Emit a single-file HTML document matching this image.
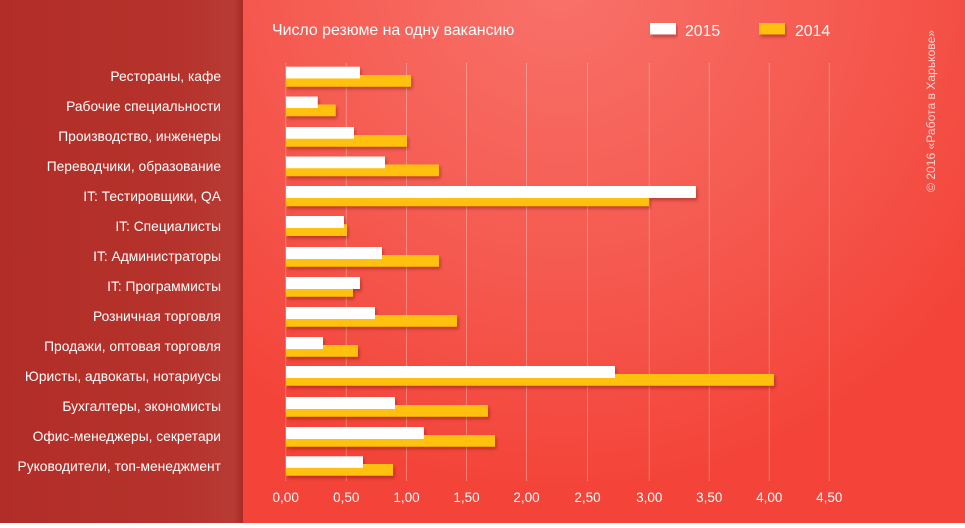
<!DOCTYPE html>
<html><head><meta charset="utf-8">
<style>
html,body{margin:0;padding:0;}
body{width:965px;height:523px;overflow:hidden;font-family:"Liberation Sans","Noto Sans CJK SC",sans-serif;}
</style></head>
<body>
<svg width="965" height="523" viewBox="0 0 965 523" xmlns="http://www.w3.org/2000/svg" font-family="Liberation Sans, DejaVu Sans, sans-serif">
<defs>
  <radialGradient id="bg" cx="560" cy="-20" r="520" gradientUnits="userSpaceOnUse">
    <stop offset="0" stop-color="#f8726a"/>
    <stop offset="0.55" stop-color="#f55a50"/>
    <stop offset="1" stop-color="#f44338"/>
  </radialGradient>
  <linearGradient id="lp" x1="0" y1="0" x2="1" y2="0">
    <stop offset="0" stop-color="#b22d27"/>
    <stop offset="0.75" stop-color="#b5332c"/>
    <stop offset="0.96" stop-color="#b83b34"/>
    <stop offset="1" stop-color="#a82a25"/>
  </linearGradient>
  <filter id="sh" x="-5%" y="-50%" width="112%" height="250%">
    <feDropShadow dx="1.5" dy="2.5" stdDeviation="1.6" flood-color="#5a0a05" flood-opacity="0.35"/>
  </filter>
</defs>
<rect x="0" y="0" width="965" height="523" fill="url(#bg)"/>
<rect x="0" y="0" width="243" height="523" fill="url(#lp)"/>

<text x="272" y="35" font-size="15.9" fill="#ffffff">Число резюме на одну вакансию</text>
<rect x="650" y="23" width="26" height="11.5" fill="#ffffff" filter="url(#sh)"/>
<text x="685" y="36" font-size="15.8" fill="#ffffff">2015</text>
<rect x="759" y="23" width="26" height="11.5" fill="#ffc107" filter="url(#sh)"/>
<text x="795" y="36" font-size="15.8" fill="#ffffff">2014</text>

<text transform="translate(935,192) rotate(-90)" font-size="12.1" fill="#ffffff" fill-opacity="0.75">© 2016 «Работа в Харькове»</text>

<g stroke="#ffffff" stroke-opacity="0.3" stroke-width="1">
  <line x1="285.7" y1="63" x2="285.7" y2="481"/>
  <line x1="346.3" y1="63" x2="346.3" y2="481"/>
  <line x1="406.5" y1="63" x2="406.5" y2="481"/>
  <line x1="466.5" y1="63" x2="466.5" y2="481"/>
  <line x1="526.5" y1="63" x2="526.5" y2="481"/>
  <line x1="587.5" y1="63" x2="587.5" y2="481"/>
  <line x1="649.3" y1="63" x2="649.3" y2="481"/>
  <line x1="709.3" y1="63" x2="709.3" y2="481"/>
  <line x1="769.3" y1="63" x2="769.3" y2="481"/>
  <line x1="829.3" y1="63" x2="829.3" y2="481"/>
</g>

<g font-size="13.8" fill="#ffffff" text-anchor="end">
  <text x="221" y="81">Рестораны, кафе</text>
  <text x="221" y="111">Рабочие специальности</text>
  <text x="221" y="141">Производство, инженеры</text>
  <text x="221" y="171">Переводчики, образование</text>
  <text x="221" y="201">IT: Тестировщики, QA</text>
  <text x="221" y="231">IT: Специалисты</text>
  <text x="221" y="261">IT: Администраторы</text>
  <text x="221" y="291">IT: Программисты</text>
  <text x="221" y="321">Розничная торговля</text>
  <text x="221" y="351">Продажи, оптовая торговля</text>
  <text x="221" y="381">Юристы, адвокаты, нотариусы</text>
  <text x="221" y="411">Бухгалтеры, экономисты</text>
  <text x="221" y="441">Офис-менеджеры, секретари</text>
  <text x="221" y="471">Руководители, топ-менеджмент</text>
</g>

<g filter="url(#sh)">
  <rect x="286" y="75" width="125" height="11.7" fill="#ffc107"/>
  <rect x="286" y="66.7" width="74" height="11.7" fill="#ffffff"/>
  <rect x="286" y="104.5" width="49.7" height="11.7" fill="#ffc107"/>
  <rect x="286" y="96.5" width="31.7" height="11.5" fill="#ffffff"/>
  <rect x="286" y="135" width="121" height="11.7" fill="#ffc107"/>
  <rect x="286" y="127" width="68" height="11.7" fill="#ffffff"/>
  <rect x="286" y="164.5" width="153" height="11.7" fill="#ffc107"/>
  <rect x="286" y="156.5" width="99" height="11.7" fill="#ffffff"/>
  <rect x="286" y="194.5" width="363" height="11.7" fill="#ffc107"/>
  <rect x="286" y="186" width="410" height="12" fill="#ffffff"/>
  <rect x="286" y="224.3" width="61" height="11.7" fill="#ffc107"/>
  <rect x="286" y="216" width="58" height="12" fill="#ffffff"/>
  <rect x="286" y="255" width="153" height="11.7" fill="#ffc107"/>
  <rect x="286" y="247" width="96" height="12" fill="#ffffff"/>
  <rect x="286" y="285" width="67" height="11.7" fill="#ffc107"/>
  <rect x="286" y="277" width="74" height="12" fill="#ffffff"/>
  <rect x="286" y="315" width="171" height="11.7" fill="#ffc107"/>
  <rect x="286" y="307" width="89" height="12" fill="#ffffff"/>
  <rect x="286" y="345" width="72" height="11.7" fill="#ffc107"/>
  <rect x="286" y="337" width="37" height="12" fill="#ffffff"/>
  <rect x="286" y="374" width="488" height="11.7" fill="#ffc107"/>
  <rect x="286" y="366" width="329" height="12" fill="#ffffff"/>
  <rect x="286" y="405" width="202" height="11.7" fill="#ffc107"/>
  <rect x="286" y="397" width="109" height="12" fill="#ffffff"/>
  <rect x="286" y="435" width="209" height="11.7" fill="#ffc107"/>
  <rect x="286" y="427" width="138" height="12" fill="#ffffff"/>
  <rect x="286" y="464" width="107" height="11.7" fill="#ffc107"/>
  <rect x="286" y="456.3" width="77" height="11.5" fill="#ffffff"/>
</g>

<g font-size="13.5" fill="#ffffff" text-anchor="middle">
  <text x="285.7" y="502">0,00</text>
  <text x="346.3" y="502">0,50</text>
  <text x="406.5" y="502">1,00</text>
  <text x="466.5" y="502">1,50</text>
  <text x="526.5" y="502">2,00</text>
  <text x="587.5" y="502">2,50</text>
  <text x="649.3" y="502">3,00</text>
  <text x="709.3" y="502">3,50</text>
  <text x="769.3" y="502">4,00</text>
  <text x="829.3" y="502">4,50</text>
</g>
</svg>
</body></html>
